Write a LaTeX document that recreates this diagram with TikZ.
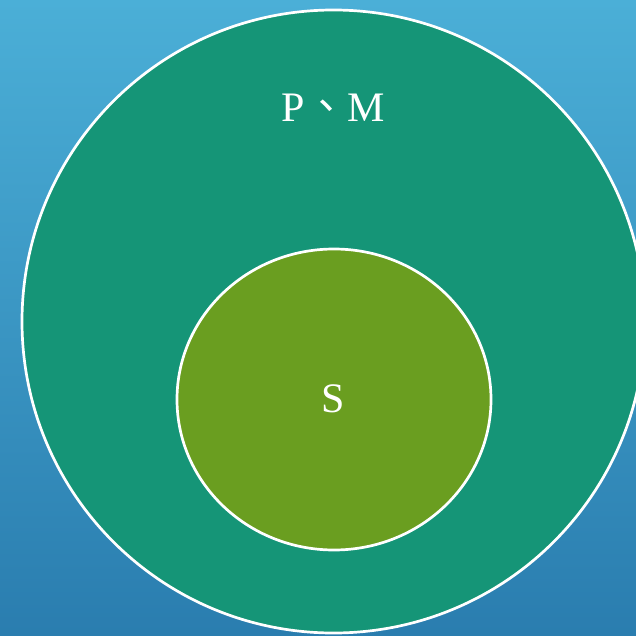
\documentclass[tikz,border=0pt]{standalone}
\usepackage{fontspec}
\setmainfont{Liberation Serif}
\newfontfamily\cjk{Noto Sans CJK TC}
\usetikzlibrary{shapes.geometric}

\definecolor{skytop}{HTML}{4BAFD7}
\definecolor{skybot}{HTML}{2A7DAF}
\definecolor{pmgreen}{HTML}{159577}
\definecolor{sgreen}{HTML}{6A9E20}

\begin{document}
\begin{tikzpicture}[
    x=1pt, y=-1pt,
    set/.style={draw=white, line width=2.7pt, inner sep=0pt},
    outer/.style={set, circle, fill=pmgreen, minimum size=623pt},
    inner/.style={set, ellipse, fill=sgreen,
                  minimum width=314pt, minimum height=301pt},
    lbl/.style={text=white, font=\fontsize{42}{48}\selectfont, inner sep=0pt}
]
  % Background
  \useasboundingbox (0,0) rectangle (636,636);
  \shade[top color=skytop, bottom color=skybot] (0,0) rectangle (636,636);

  \begin{scope}
    \clip (0,0) rectangle (636,636);
    % Sets
    \node[outer] (pm) at (333.5,321.5) {};
    \node[inner] (s) at (334,399.5) {};
  \end{scope}

  % Labels
  \node[lbl] (pmlabel) at (333,108) {P{\cjk 、}M};
  \node[lbl] (slabel) at (333,399) {S};
\end{tikzpicture}
\end{document}
